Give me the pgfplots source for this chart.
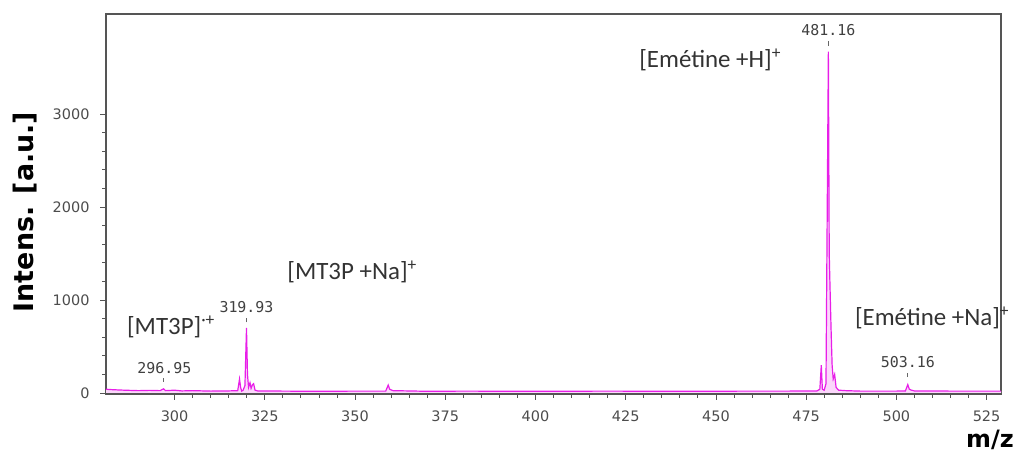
\documentclass[border=0pt]{standalone}
\usepackage{pgfplots}
\pgfplotsset{compat=1.18}
\usepackage{fontspec}
\setmainfont{DejaVu Sans}
\newfontfamily\monof{DejaVu Sans Mono}
\newfontfamily\calf{Carlito}
\definecolor{spec}{RGB}{232,30,232}
\definecolor{axgray}{RGB}{85,85,85}
\begin{document}
\begin{tikzpicture}[x=1bp,y=1bp]
\useasboundingbox (0,0) rectangle (1023,455);
\begin{axis}[
  at={(106bp,61bp)}, anchor=south west,
  width=895bp, height=380bp, scale only axis,
  xmin=281, xmax=529, ymin=-11, ymax=4075,
  xtick={300,325,350,375,400,425,450,475,500,525}, minor x tick num=4,
  ytick={0,1000,2000,3000}, minor y tick num=4,
  tick align=outside, tick pos=left,
  major tick length=6bp, minor tick length=4bp,
  axis line style={axgray, line width=1.3bp},
  every tick/.style={axgray, line width=0.8bp},
  tick label style={font=\fontsize{14.5}{16}\selectfont, text=black!70},
  xticklabel style={yshift=-7bp},
  yticklabel style={xshift=-7bp},
  /pgf/number format/assume math mode=true,
  /pgf/number format/1000 sep={},
  clip=false,
]
\addplot[draw=none, fill=spec!18] coordinates {
(281,40) (283,35) (286,30) (290,25) (293,28) (296,25) (296.95,45) (297.5,25)
(300,30) (302,22) (305,25) (310,20) (315,22) (317.5,25) (318.0,150) (318.3,60)
(318.6,20) (319.0,30) (319.5,80) (319.93,700) (320.2,200) (320.5,60) (320.9,110)
(321.2,50) (321.6,90) (321.9,100) (322.3,30) (323,22) (330,20) (340,18) (350,20)
(358.5,20) (359.2,85) (359.6,40) (360.5,25) (370,18) (380,20) (400,18) (420,20)
(440,18) (460,20) (470,20) (478,22) (478.8,40) (479.2,300) (479.5,40) (480.0,30)
(480.5,100) (481.16,3670) (481.4,1500) (481.6,1170) (481.9,700) (482.2,300)
(482.5,150) (482.9,200) (483.3,60) (484,30) (486,25) (490,20) (500,20) (502.5,22)
(503.16,90) (503.6,40) (504.2,30) (505,22) (515,20) (529,20)
} \closedcycle;
\addplot[spec, line width=1.2bp] coordinates {
(281,40) (283,35) (286,30) (290,25) (293,28) (296,25) (296.95,45) (297.5,25)
(300,30) (302,22) (305,25) (310,20) (315,22) (317.5,25) (318.0,150) (318.3,60)
(318.6,20) (319.0,30) (319.5,80) (319.93,700) (320.2,200) (320.5,60) (320.9,110)
(321.2,50) (321.6,90) (321.9,100) (322.3,30) (323,22) (330,20) (340,18) (350,20)
(358.5,20) (359.2,85) (359.6,40) (360.5,25) (370,18) (380,20) (400,18) (420,20)
(440,18) (460,20) (470,20) (478,22) (478.8,40) (479.2,300) (479.5,40) (480.0,30)
(480.5,100) (481.16,3670) (481.4,1500) (481.6,1170) (481.9,700) (482.2,300)
(482.5,150) (482.9,200) (483.3,60) (484,30) (486,25) (490,20) (500,20) (502.5,22)
(503.16,90) (503.6,40) (504.2,30) (505,22) (515,20) (529,20)
};
% peak labels
\node[font=\monof\fontsize{15}{17}\selectfont, text=black!75] at (axis cs:481.16,3900) {481.16};
\node[font=\monof\fontsize{15}{17}\selectfont, text=black!75] at (axis cs:319.93,924) {319.93};
\node[font=\monof\fontsize{15}{17}\selectfont, text=black!75] at (axis cs:297.2,269) {296.95};
\node[font=\monof\fontsize{15}{17}\selectfont, text=black!75] at (axis cs:503.16,333) {503.16};
\draw[black!60, line width=0.8bp] (axis cs:481.16,3730) -- (axis cs:481.16,3780);
\draw[black!60, line width=0.8bp] (axis cs:319.93,760) -- (axis cs:319.93,810);
\draw[black!60, line width=0.8bp] (axis cs:296.95,120) -- (axis cs:296.95,160);
\draw[black!60, line width=0.8bp] (axis cs:503.16,170) -- (axis cs:503.16,220);
% annotations
\node[font=\calf\fontsize{25}{27}\selectfont, text=black!80] at (axis cs:448.4,3580) {[Emétine +H]\textsuperscript{+}};
\node[font=\calf\fontsize{25}{27}\selectfont, text=black!80] at (axis cs:299.0,709) {[MT3P]\textsuperscript{·+}};
\node[font=\calf\fontsize{25}{27}\selectfont, text=black!80] at (axis cs:349.2,1301) {[MT3P +Na]\textsuperscript{+}};
\node[font=\calf\fontsize{25}{27}\selectfont, text=black!80] at (axis cs:509.9,806) {[Emétine +Na]\textsuperscript{+}};
\end{axis}
\node[rotate=90, font=\bfseries\fontsize{27}{29}\selectfont] at (25,243) {Intens. [a.u.]};
\node[font=\bfseries\fontsize{24}{26}\selectfont] at (990,15) {m/z};
\end{tikzpicture}
\end{document}
